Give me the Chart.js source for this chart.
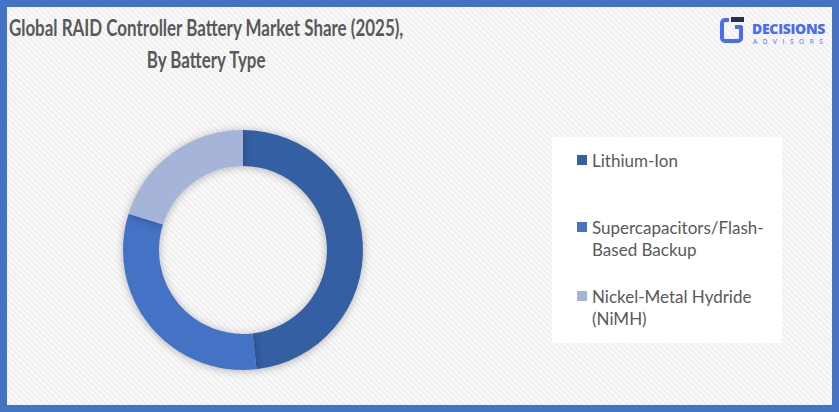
<!DOCTYPE html>
<html>
<head>
<meta charset="utf-8">
<script src="https://cdn.jsdelivr.net/npm/chart.js@4.4.1/dist/chart.umd.min.js"></script>
<style>
  html, body { margin: 0; padding: 0; }
  body { width: 839px; height: 412px; overflow: hidden; font-family: Lato, "Open Sans", sans-serif; }
  #frame {
    position: absolute; left: 0; top: 0; width: 825px; height: 398px;
    border: 7px solid #4472c4;
    background: repeating-linear-gradient(45deg, #f9f9f9 0px, #f9f9f9 2px, #f0f0f0 2px, #f0f0f0 4px);
  }
  #title {
    position: absolute; left: -101px; top: 5px; width: 600px; text-align: center;
    font-weight: bold; font-size: 22px; line-height: 32px; color: #595959;
  }
  #title span { display: inline-block; white-space: nowrap; transform: scaleX(0.77); transform-origin: center; }
  #chartBox { position: absolute; left: 106px; top: 113px; width: 260px; height: 260px; }
  #legend {
    position: absolute; left: 545px; top: 130px; width: 230px; height: 206px;
    background: #fff;
  }
  .item { position: absolute; left: 25px; display: flex; align-items: flex-start; }
  .swatch { width: 10px; height: 10px; margin-top: 5px; margin-right: 5px; flex: none; }
  .label { width: 185px; font-size: 17px; line-height: 22px; color: #595959; }
  #logo { position: absolute; left: 713px; top: 7px; }
  #logo .word { position: absolute; left: 32px; top: 5px; font-family: "Open Sans", sans-serif; font-weight: 800; font-size: 14px; color: #4a6cf0; letter-spacing: -0.3px; }
  #logo .sub { position: absolute; left: 33px; top: 23px; font-family: "Open Sans", sans-serif; font-size: 6.5px; color: #4a6cf0; letter-spacing: 5.6px; white-space: nowrap; }
</style>
</head>
<body>
<div id="frame">
  <div id="title"><span>Global RAID Controller Battery Market Share (2025),</span><br><span>By Battery Type</span></div>
  <div id="logo">
    <svg width="30" height="32" viewBox="0 0 30 32">
      <rect x="11" y="3" width="13" height="5" fill="#2b2f45"/>
      <path d="M9 6 H5 a3 3 0 0 0 -3 3 V24 a3 3 0 0 0 3 3 H18 a3 3 0 0 0 3 -3 V13 H15" fill="none" stroke="#4a6cf0" stroke-width="4" stroke-linejoin="round"/>
    </svg>
    <div class="word">DECISIONS</div>
    <div class="sub">ADVISORS</div>
  </div>
  <div id="chartBox"><canvas id="donut"></canvas></div>
  <div id="legend"></div>
</div>
<script>
const categories = ["Lithium-Ion", "Supercapacitors/Flash-Based Backup", "Nickel-Metal Hydride (NiMH)"];
const shares = [48.2, 31.7, 20.1];
const colors = ["#355fa3", "#4472c4", "#a6b4da"];
const legendTops = [13, 80, 149];

const shadowPlugin = {
  id: "ringShadow",
  beforeDatasetsDraw(chart) {
    const c = chart.ctx;
    c.save();
    c.shadowColor = "rgba(0,0,0,0.28)";
    c.shadowBlur = 8;
    c.shadowOffsetX = 0;
    c.shadowOffsetY = 1;
  },
  afterDatasetsDraw(chart) {
    chart.ctx.restore();
  }
};

const ctx = document.getElementById("donut").getContext("2d");
new Chart(ctx, {
  type: "doughnut",
  data: {
    labels: categories,
    datasets: [{
      data: shares,
      backgroundColor: colors,
      borderWidth: 0
    }]
  },
  options: {
    responsive: true,
    maintainAspectRatio: false,
    animation: false,
    cutout: "70%",
    layout: { padding: 10 },
    plugins: {
      legend: { display: false },
      tooltip: { enabled: false }
    }
  },
  plugins: [shadowPlugin]
});

const legend = document.getElementById("legend");
categories.forEach((name, i) => {
  const item = document.createElement("div");
  item.className = "item";
  item.style.top = legendTops[i] + "px";
  const sw = document.createElement("div");
  sw.className = "swatch";
  sw.style.background = colors[i];
  const lb = document.createElement("div");
  lb.className = "label";
  lb.textContent = name;
  item.appendChild(sw);
  item.appendChild(lb);
  legend.appendChild(item);
});
</script>
</body>
</html>
